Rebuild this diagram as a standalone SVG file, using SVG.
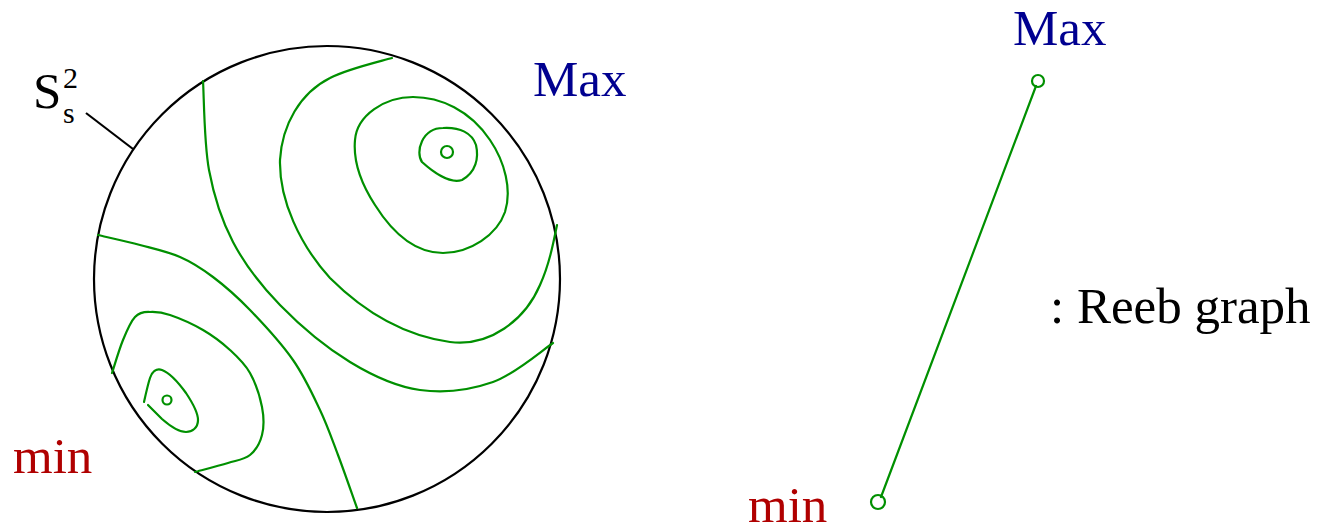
<svg xmlns="http://www.w3.org/2000/svg" width="1320" height="532" viewBox="0 0 1320 532">
<style>
.lbl{font-family:"Liberation Serif","Tinos","Nimbus Roman","DejaVu Serif",serif;font-size:51px}
.max{fill:#000090}
.min{fill:#b00000}
.blk{fill:#000}
.sm{font-size:30px}
.ct{fill:none;stroke:#009000;stroke-width:2.2;stroke-linecap:round;stroke-linejoin:round}
.bk{fill:none;stroke:#000;stroke-width:2.2}
</style>
<rect width="1320" height="532" fill="#fff"/>
<g id="sphere" font-family="Liberation Serif, serif">
<circle class="bk" cx="327" cy="279" r="233"/>
<line class="bk" x1="86" y1="113" x2="133" y2="149"/>
<text class="lbl blk" x="33" y="108">S</text>
<text class="lbl blk sm" x="63" y="88">2</text>
<text class="lbl blk sm" x="63" y="123">s</text>
</g>
<g id="contours">
<path class="ct" d="M203,81 C204,95.8 204,143.2 209,170 C214,196.8 221.2,219.5 233,242 C244.8,264.5 260.5,285 280,305 C299.5,325 326.7,347.8 350,362 C373.3,376.2 396.2,386.7 420,390 C443.8,393.3 470.8,389.8 493,382 C515.2,374.2 543,349.5 553,343"/>
<path class="ct" d="M98,235 C105,236.7 126.3,241.3 140,245 C153.7,248.7 167.8,251.7 180,257 C192.2,262.3 201.3,268.2 213,277 C224.7,285.8 236.7,296.2 250,310 C263.3,323.8 281.3,343.3 293,360 C304.7,376.7 312.5,394.2 320,410 C327.5,425.8 331.8,438.7 338,455 C344.2,471.3 353.8,499.2 357,508"/>
<path class="ct" d="M112,373 C113.8,367.5 119.2,349.3 123,340 C126.8,330.7 130.5,321.7 135,317 C139.5,312.3 144.2,311.7 150,312 C155.8,311.7 161.2,312 170,315 C178.8,318 193,324.2 203,330 C213,335.8 222.2,342.8 230,350 C237.8,357.2 244.7,363.5 250,373 C255.3,382.5 260,396.7 262,407 C264,417.3 264,427 262,435 C260,443 255.7,450.3 250,455 C244.3,459.7 237.2,460.2 228,463 C218.8,465.8 200.5,470.5 195,472"/>
<path class="ct" d="M144,402 C146,393 148,384 150,378 C152,372 156,368 162,370 C170,373 178,382 186,393 C192,402 198,412 198,420 C198,428 192,432 186,432 C178,432 170,426 162,419 L148,405"/>
<circle class="ct" cx="167" cy="400" r="4.5"/>
<path class="ct" d="M392,58 C370,64 345,70 330,78 C300,93 282,125 280,160 C279,200 300,245 330,278 C360,308 400,335 450,342 C490,347 525,320 540,285 C549,265 553,245 557,225"/>
<path class="ct" d="M413,97 C440,97 470,110 490,140 C505,162 512,190 505,212 C497,235 470,253 443,253 C415,253 392,232 375,205 C362,185 353,162 355,140 C357,115 385,97 413,97 Z"/>
<path class="ct" d="M443,128 C460,127 472,133 476,145 C479,158 476,172 462,180 C450,184 433,172 422,162 C415,152 422,128 443,128 Z"/>
<circle class="ct" cx="447" cy="152" r="6"/>
</g>
<g id="label-max-left"><text class="lbl max" x="533" y="96">Max</text></g>
<g id="label-min-left"><text class="lbl min" x="13" y="473">min</text></g>
<g id="node-max"><circle class="ct" cx="1038" cy="81" r="6"/><text class="lbl max" x="1013" y="45">Max</text></g>
<g id="node-min"><circle class="ct" cx="878" cy="502" r="7"/><text class="lbl min" x="748" y="522">min</text></g>
<g id="edges"><line class="ct" x1="1036" y1="86" x2="881" y2="497"/></g>
<g id="legend"><text class="lbl blk" x="1050" y="323">: Reeb graph</text></g>
</svg>
